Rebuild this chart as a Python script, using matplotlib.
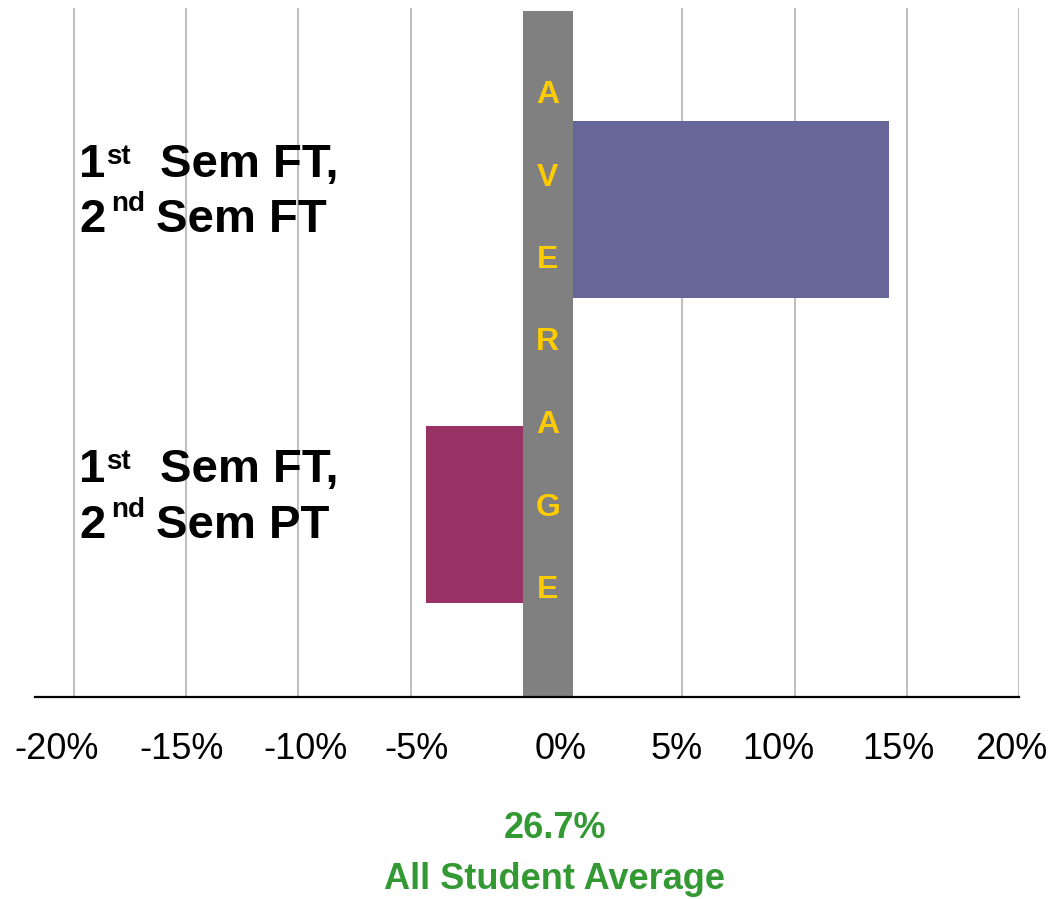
import matplotlib
matplotlib.use('Agg')
import matplotlib.pyplot as plt
import matplotlib.transforms as mtransforms
from matplotlib import font_manager

# chart values
categories = ['1st Sem FT, 2nd Sem FT', '1st Sem FT, 2nd Sem PT']
diffs = [14.2, -4.3]          # difference from the all student average, in %
bar_colors = ['#666699', '#993366']
tick_values = [-20, -15, -10, -5, 0, 5, 10, 15, 20]
average_value = 26.7
band_word = 'AVERAGE'

# gap (in % units) kept free around zero for the grey "average" band
gap = 2.12
band_right = 2.25
px_per_unit = 22.43
# the labels under the axis are not exactly centred on the gridlines
label_nudge_px = [-17, -5, 7, 6, 0, -6, -16, -8, -8]

plt.rcParams['font.family'] = ['Liberation Sans', 'DejaVu Sans']

try:
    font_manager.findfont('Liberation Sans Narrow', fallback_to_default=False)
    narrow = ['Liberation Sans Narrow', 'Liberation Sans']
    band_size = 24
except Exception:
    narrow = ['Liberation Sans']
    band_size = 23


def shift(v):
    return v + gap if v > 0 else v


fig = plt.figure(figsize=(10.53, 8.99), dpi=100)
W, H = 1053, 899
ax = fig.add_axes([35 / W, (H - 697) / H, (1019 - 35) / W, (697 - 8) / H])

# bars: first category on top
ypos = [1, 0]
for y, d, c in zip(ypos, diffs, bar_colors):
    left = gap if d > 0 else 0
    ax.barh(y, d, left=left, height=0.582, color=c, zorder=2)

ax.set_xlim(-21.74, 20 + gap)
ax.set_ylim(-0.600, 1.663)

# gridlines
for v in tick_values:
    if v != 0:
        ax.axvline(shift(v), color='#C0C0C0', lw=1.5, zorder=1)

# grey average band
ax.axvspan(0, band_right, ymin=0, ymax=(697 - 11) / (697 - 8), color='#808080', zorder=3, lw=0)

# letters of AVERAGE in the band (positions in pixel rows)
pix = mtransforms.IdentityTransform()
band_cx_px = 523.5 + (574 - 523.5) / 2
for i, ch in enumerate(band_word):
    yb = 103 + i * 82.5
    fig.text(band_cx_px - 1, H - yb, ch, transform=pix, ha='center', va='baseline',
             fontsize=band_size, fontweight='bold', color='#FFCC00', family=narrow, zorder=5)

# axis
for s in ['top', 'right', 'left']:
    ax.spines[s].set_visible(False)
ax.spines['bottom'].set_linewidth(1.6)
ax.spines['bottom'].set_color('black')
ax.spines['bottom'].set_zorder(4)
ax.set_yticks([])
tick_pos = []
for v, n in zip(tick_values, label_nudge_px):
    base = shift(v) if v != 0 else (561 - 523.5) / px_per_unit
    tick_pos.append(base + n / px_per_unit)
ax.set_xticks(tick_pos)
ax.set_xticklabels([f'{v}%' for v in tick_values], fontsize=26)
ax.tick_params(axis='x', length=0, pad=25)


# category labels with superscript ordinals
def label(x, base1, base2, first, second):
    fig.text(x, H - base1, '1', transform=pix, fontsize=34, fontweight='bold', va='baseline')
    fig.text(x + 27, H - (base1 - 13), 'st', transform=pix, fontsize=20, fontweight='bold', va='baseline')
    fig.text(x + 81, H - base1, first, transform=pix, fontsize=34, fontweight='bold', va='baseline')
    fig.text(x, H - base2, '2', transform=pix, fontsize=34, fontweight='bold', va='baseline')
    fig.text(x + 32, H - (base2 - 21), 'nd', transform=pix, fontsize=20, fontweight='bold', va='baseline')
    fig.text(x + 77, H - base2, second, transform=pix, fontsize=34, fontweight='bold', va='baseline')


for cat, b1, b2 in zip(categories, [177, 482], [232, 538]):
    parts = cat.split(', ')
    first = parts[0].split(' ', 1)[1] + ','
    second = parts[1].split(' ', 1)[1]
    label(79, b1, b2, first, second)

# all student average note
fig.text(555, H - 838, f'{average_value}%', transform=pix, ha='center', va='baseline',
         fontsize=26, fontweight='bold', color='#339933')
fig.text(555, H - 889, 'All Student Average', transform=pix, ha='center', va='baseline',
         fontsize=26, fontweight='bold', color='#339933')

fig.savefig('out.png', dpi=100)
